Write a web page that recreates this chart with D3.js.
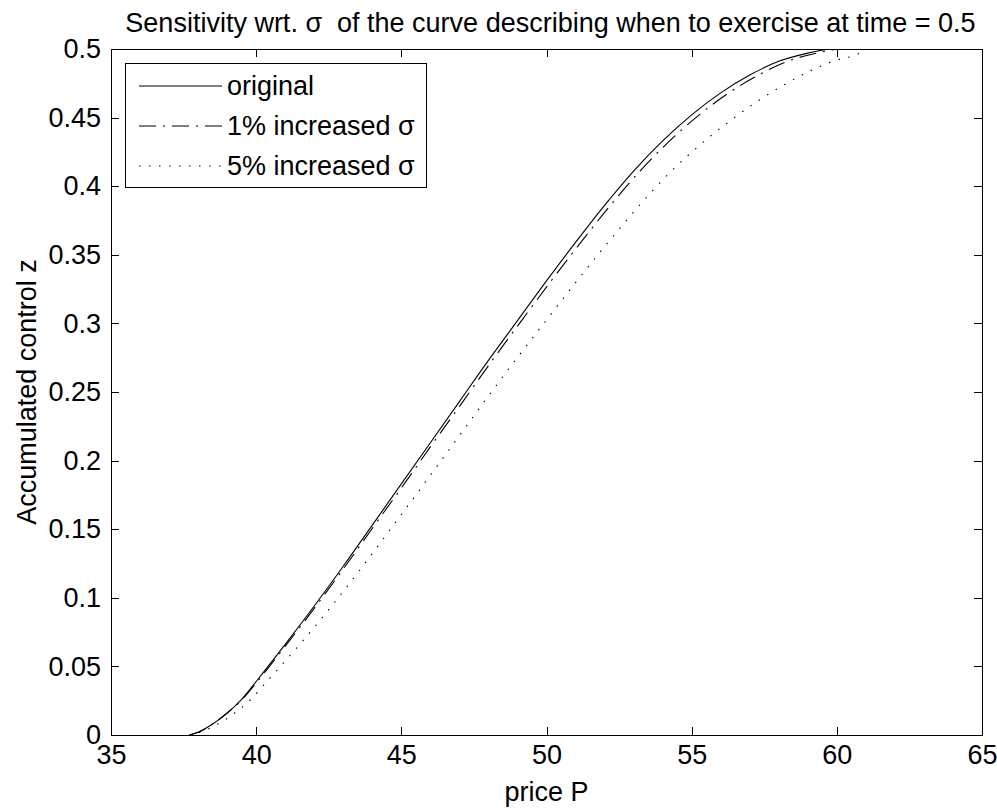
<!DOCTYPE html>
<html>
<head>
<meta charset="utf-8">
<script src="https://cdn.jsdelivr.net/npm/d3@7"></script>
<style>
    body { margin: 0; background: #fff; }
    svg { display: block; }
    text { font-family: "Liberation Sans", Arial, sans-serif; fill: #000; }
</style>
</head>
<body>
<svg id="chart"></svg>
<script>
// values
const xTicks = [35, 40, 45, 50, 55, 60, 65];
const yTicks = [0, 0.05, 0.1, 0.15, 0.2, 0.25, 0.3, 0.35, 0.4, 0.45, 0.5];
const yTickLabels = ["0", "0.05", "0.1", "0.15", "0.2", "0.25", "0.3", "0.35", "0.4", "0.45", "0.5"];

// accumulated control z levels, and the price P where each curve reaches them
const zLevels = [0, 0.002, 0.008, 0.016, 0.026, 0.039, 0.066, 0.094, 0.123, 0.153, 0.183, 0.213, 0.243,
    0.273, 0.302, 0.331, 0.359, 0.386, 0.411, 0.433, 0.452, 0.468, 0.481, 0.491, 0.497, 0.5];
const priceOriginal = [37.7, 38, 38.5, 39, 39.5, 40, 41, 42, 43, 44, 45, 46, 47,
    48, 49, 50, 51, 52, 53, 54, 55, 56, 57, 58, 59, 59.7];
const price1pct = [37.7, 38, 38.5, 39, 39.52, 40.04, 41.05, 42.06, 43.07, 44.08, 45.1, 46.1, 47.12,
    48.13, 49.14, 50.16, 51.18, 52.2, 53.22, 54.24, 55.26, 56.28, 57.3, 58.3, 59.3, 60.0];
const price5pct = [37.7, 38.08, 38.68, 39.26, 39.82, 40.37, 41.5, 42.6, 43.67, 44.73, 45.78, 46.82, 47.86,
    48.92, 49.98, 51.05, 52.12, 53.2, 54.3, 55.45, 56.6, 57.72, 58.8, 59.85, 60.8, 61.05];

const seriesNames = ["original", "1% increased \u03c3", "5% increased \u03c3"];
const seriesPrices = [priceOriginal, price1pct, price5pct];
const seriesDash = [null, "17,7,2,7", "1.5,8.5"];

const W = 997, H = 808;
const margin = { top: 49, right: 15, bottom: 73, left: 111 };
const width = W - margin.left - margin.right;
const height = H - margin.top - margin.bottom;
const fontSize = 27;

const svg = d3.select("#chart")
    .attr("width", W)
    .attr("height", H);

const g = svg.append("g")
    .attr("transform", `translate(${margin.left},${margin.top})`);

const x = d3.scaleLinear().domain([35, 65]).range([0, width]);
const y = d3.scaleLinear().domain([0, 0.5]).range([height, 0]);

g.append("defs").append("clipPath")
    .attr("id", "clip")
    .append("rect")
    .attr("width", width)
    .attr("height", height);

// axes, ticks pointing inward like matlab
const tickLen = 8;
const styleAxis = sel => {
    sel.select(".domain").remove();
    sel.selectAll(".tick line").attr("stroke", "#000").attr("shape-rendering", "crispEdges");
    sel.selectAll("text").style("font-size", fontSize + "px").attr("fill", "#000").attr("font-family", null);
};

g.append("g")
    .attr("transform", `translate(0,${height})`)
    .call(d3.axisBottom(x).tickValues(xTicks).tickSize(-tickLen).tickPadding(10).tickFormat(d3.format("d")))
    .call(styleAxis);

g.append("g")
    .call(d3.axisTop(x).tickValues(xTicks).tickSize(-tickLen).tickFormat(""))
    .call(styleAxis);

g.append("g")
    .call(d3.axisLeft(y).tickValues(yTicks).tickSize(-tickLen).tickPadding(10).tickFormat((d, i) => yTickLabels[i]))
    .call(styleAxis);

g.append("g")
    .attr("transform", `translate(${width},0)`)
    .call(d3.axisRight(y).tickValues(yTicks).tickSize(-tickLen).tickFormat(""))
    .call(styleAxis);

g.append("rect")
    .attr("width", width)
    .attr("height", height)
    .attr("fill", "none")
    .attr("stroke", "#000")
    .attr("shape-rendering", "crispEdges");

// curves
const line = d3.line()
    .x(d => x(d[0]))
    .y(d => y(d[1]))
    .curve(d3.curveMonotoneX);

seriesPrices.forEach((prices, i) => {
    g.append("path")
        .datum(prices.map((p, k) => [p, zLevels[k]]))
        .attr("fill", "none")
        .attr("stroke", "#000")
        .attr("stroke-width", 1.1)
        .attr("stroke-dasharray", seriesDash[i])
        .attr("clip-path", "url(#clip)")
        .attr("d", line);
});

// legend
const legend = g.append("g")
    .attr("transform", "translate(14,14)");

legend.append("rect")
    .attr("width", 301)
    .attr("height", 124)
    .attr("fill", "#fff")
    .attr("stroke", "#000")
    .attr("shape-rendering", "crispEdges");

seriesNames.forEach((name, i) => {
    const ly = 23 + i * 40;
    legend.append("line")
        .attr("x1", 14).attr("x2", 97)
        .attr("y1", ly).attr("y2", ly)
        .attr("stroke", "#000")
        .attr("stroke-width", 1.1)
        .attr("stroke-dasharray", seriesDash[i]);
    legend.append("text")
        .attr("x", 102)
        .attr("y", ly + 9)
        .style("font-size", fontSize + "px")
        .text(name);
});

// title and axis labels
svg.append("text")
    .attr("x", margin.left + width / 2 + 4)
    .attr("y", 32)
    .attr("text-anchor", "middle")
    .style("font-size", fontSize + "px")
    .style("white-space", "pre")
    .text("Sensitivity wrt. \u03c3  of the curve describing when to exercise at time = 0.5");

svg.append("text")
    .attr("x", margin.left + width / 2)
    .attr("y", 801)
    .attr("text-anchor", "middle")
    .style("font-size", fontSize + "px")
    .text("price P");

svg.append("text")
    .attr("transform", `translate(36,${margin.top + height / 2}) rotate(-90)`)
    .attr("text-anchor", "middle")
    .style("font-size", fontSize + "px")
    .text("Accumulated control z");
</script>
</body>
</html>
